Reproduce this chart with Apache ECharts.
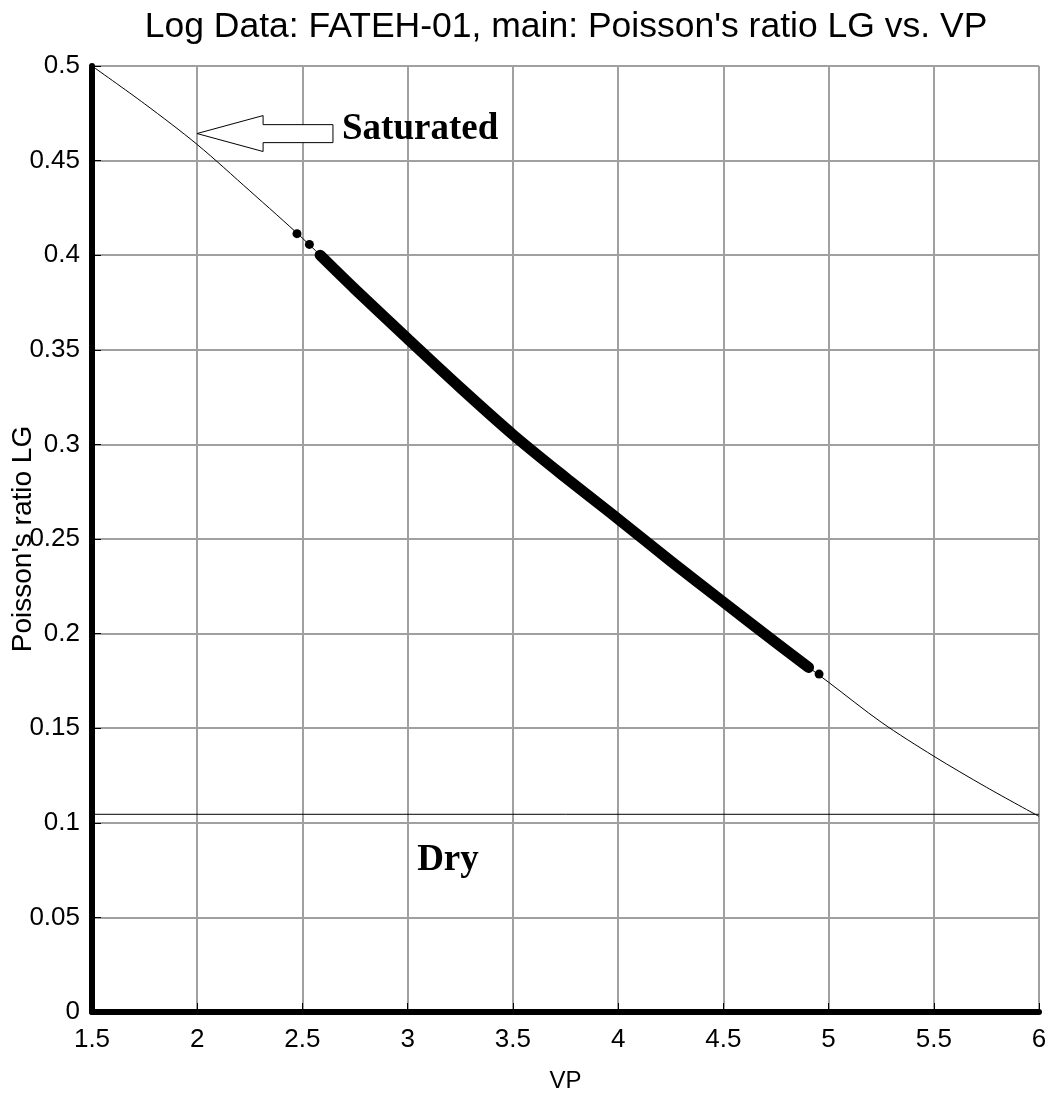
<!DOCTYPE html>
<html>
<head>
<meta charset="utf-8">
<title>Poisson's ratio LG vs. VP</title>
<script src="https://cdn.jsdelivr.net/npm/echarts@6/dist/echarts.min.js"></script>
<style>
  html, body { margin: 0; padding: 0; background: #fff; }
  #chart { width: 1047px; height: 1095px; }
</style>
</head>
<body>
<div id="chart"></div>
<script>
// --- data ---
// thin model curve (VP vs Poisson's ratio)
const curveVP = [1.5, 1.75, 2.0, 2.25, 2.5, 2.75, 3.0, 3.25, 3.5, 3.75, 4.0, 4.25, 4.5, 4.75, 5.0, 5.25, 5.5, 5.75, 6.0];
const curvePR = [0.5, 0.480, 0.4585, 0.434, 0.409, 0.382, 0.3558, 0.330, 0.3052, 0.2825, 0.2606, 0.2383, 0.2167, 0.1952, 0.1743, 0.1532, 0.1352, 0.1188, 0.1034];

// dense band of log samples
const bandVP = [2.584, 2.75, 3.0, 3.25, 3.5, 3.75, 4.0, 4.25, 4.5, 4.75, 4.905];
const bandPR = [0.400, 0.382, 0.3558, 0.330, 0.3052, 0.2825, 0.2606, 0.2383, 0.2167, 0.1952, 0.1821];

// isolated samples
const dotVP = [2.474, 2.533, 4.955];
const dotPR = [0.4114, 0.4057, 0.1786];

// dry limit line
const dryVP = [1.5, 6.0];
const dryPR = [0.1045, 0.1045];

// annotation arrow outline (data units) and labels
const arrowVP = [2.645, 2.313, 2.313, 1.999, 2.313, 2.313, 2.645];
const arrowPR = [0.4690, 0.4690, 0.4738, 0.4643, 0.4548, 0.4595, 0.4595];
const noteText = ["Saturated", "Dry"];
const noteVP = [2.688, 3.045];
const notePR = [0.4664, 0.0800];

const zip = (a, b) => a.map((v, i) => [v, b[i]]);

const chart = echarts.init(document.getElementById("chart"), null, { renderer: "canvas" });

const FONT = "'Liberation Sans', Arial, sans-serif";
const SERIF = "'Liberation Serif', 'Times New Roman', serif";

const option = {
  animation: false,
  backgroundColor: "#fff",
  title: {
    text: "Log Data: FATEH-01, main: Poisson's ratio LG vs. VP",
    left: 561,
    top: 4,
    textAlign: "center",
    textStyle: { fontFamily: FONT, fontSize: 35.5, fontWeight: "normal", color: "#000" },
  },
  grid: {
    left: 92, right: 8, top: 66, bottom: 83,
    outerBoundsMode: "none",
    containLabel: false,
    show: true, borderColor: "#000", borderWidth: 1, backgroundColor: "transparent",
  },
  xAxis: {
    type: "value",
    min: 1.5, max: 6, interval: 0.5,
    name: "VP",
    nameLocation: "middle",
    nameGap: 57,
    nameMoveOverlap: false,
    nameTextStyle: { fontFamily: FONT, fontSize: 24, color: "#000" },
    axisLine: { show: true, onZero: false, lineStyle: { color: "#000", width: 6 } },
    axisTick: { show: true, inside: true, length: 9, lineStyle: { color: "#000", width: 1 } },
    axisLabel: { fontFamily: FONT, fontSize: 26, color: "#000", margin: 15 },
    splitLine: { show: true, lineStyle: { color: "#a0a0a0", width: 2 } },
  },
  yAxis: {
    type: "value",
    min: 0, max: 0.5, interval: 0.05,
    name: "Poisson's ratio LG",
    nameLocation: "middle",
    nameGap: 55,
    nameMoveOverlap: false,
    nameTextStyle: { fontFamily: FONT, fontSize: 28, color: "#000" },
    axisLine: { show: true, onZero: false, lineStyle: { color: "#000", width: 6 } },
    axisTick: { show: true, inside: true, length: 9, lineStyle: { color: "#000", width: 1 } },
    axisLabel: {
      fontFamily: FONT, fontSize: 26, color: "#000", margin: 12,
      formatter: (v) => String(+v.toFixed(2)),
    },
    splitLine: { show: true, lineStyle: { color: "#a0a0a0", width: 2 } },
  },
  series: [
    {
      name: "dry",
      type: "line",
      data: zip(dryVP, dryPR),
      symbol: "none",
      lineStyle: { color: "#000", width: 1 },
      z: 3,
    },
    {
      name: "model",
      type: "line",
      data: zip(curveVP, curvePR),
      symbol: "none",
      smooth: 0.3,
      lineStyle: { color: "#000", width: 1 },
      z: 4,
    },
    {
      name: "band",
      type: "line",
      data: zip(bandVP, bandPR),
      symbol: "none",
      smooth: 0.3,
      lineStyle: { color: "#000", width: 11, cap: "round", join: "round" },
      z: 5,
    },
    {
      name: "samples",
      type: "scatter",
      data: zip(dotVP, dotPR),
      symbol: "circle",
      symbolSize: 9,
      itemStyle: { color: "#000", opacity: 1 },
      z: 6,
    },
    {
      // outlined arrow pointing at the saturated end
      name: "arrow",
      type: "custom",
      data: [0],
      renderItem: (params, api) => {
        const pts = arrowVP.map((x, i) => api.coord([x, arrowPR[i]]));
        return {
          type: "polygon",
          shape: { points: pts },
          style: { fill: "#fff", stroke: "#000", lineWidth: 1 },
        };
      },
      z: 7,
    },
    {
      name: "notes",
      type: "custom",
      data: noteText.map((t, i) => [noteVP[i], notePR[i]]),
      renderItem: (params, api) => {
        const p = api.coord([api.value(0), api.value(1)]);
        return {
          type: "text",
          x: p[0], y: p[1],
          style: {
            text: noteText[params.dataIndex],
            font: "bold 37px " + SERIF,
            fill: "#000",
            align: "left",
            verticalAlign: "middle",
          },
        };
      },
      z: 8,
    },
  ],
};

chart.setOption(option);
</script>
</body>
</html>
